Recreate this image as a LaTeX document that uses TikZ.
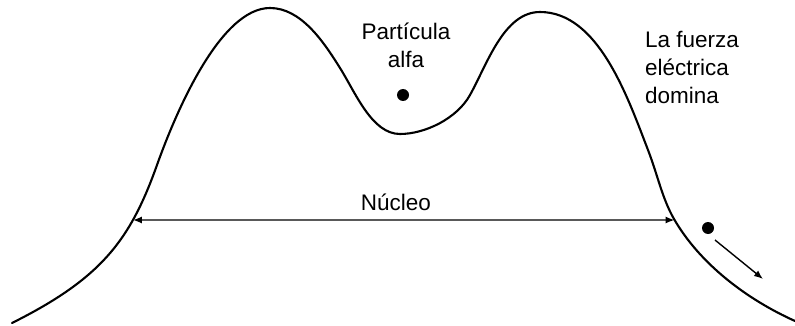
\documentclass[tikz,border=0pt]{standalone}
\usepackage{fontspec}
\setmainfont{Liberation Sans}
\usetikzlibrary{arrows.meta,intersections}
\begin{document}
\begin{tikzpicture}[x=1pt,y=-1pt,
  curve/.style={line width=2.1pt, line join=round, line cap=round},
  dimline/.style={line width=1.4pt, {Latex[length=9pt,width=7pt]}-{Latex[length=9pt,width=7pt]}},
  motion/.style={line width=1.4pt, -{Latex[length=9pt,width=7pt]}},
  lbl/.style={font=\fontsize{22.5}{28}\selectfont, inner sep=0pt},
  particle/.style={circle, fill=black, inner sep=0pt, minimum size=12pt}]
\useasboundingbox (0,0) rectangle (795,326);
\draw[curve, name path=barrier] (12,323)
  .. controls (101.4,278.3) and (130.1,240.4) .. (157,165)
  .. controls (175.5,113.2) and (220,8) .. (270,8)
  .. controls (301,8) and (323.6,41.7) .. (340,68)
  .. controls (355.9,93.4) and (372,134) .. (400,134)
  .. controls (425,134) and (456.9,118.6) .. (470,95)
  .. controls (487.5,63.5) and (504,12) .. (540,12)
  .. controls (598,12) and (627.2,95.9) .. (648,150)
  .. controls (658,176) and (662,198) .. (674,219)
  .. controls (700,264) and (746.7,299.3) .. (795,321);
\path[name path=axis] (100,220) -- (700,220);
\path[name intersections={of=barrier and axis, by={nl,nr}}];
\draw[dimline] (nl) -- (nr);
\node[lbl, anchor=base] (nucleo) at (396,210) {Núcleo};
\node[lbl, anchor=north, align=center] (alfa) at (406,23) {Partícula\\alfa};
\node[particle] (p1) at (403,95) {};
\node[lbl, anchor=north west, align=left] (fuerza) at (645,31) {La fuerza\\eléctrica\\domina};
\node[particle] (p2) at (708,228) {};
\coordinate (m1) at (715,240);
\coordinate (m2) at (763,279);
\draw[motion] (m1) -- (m2);
\end{tikzpicture}
\end{document}
